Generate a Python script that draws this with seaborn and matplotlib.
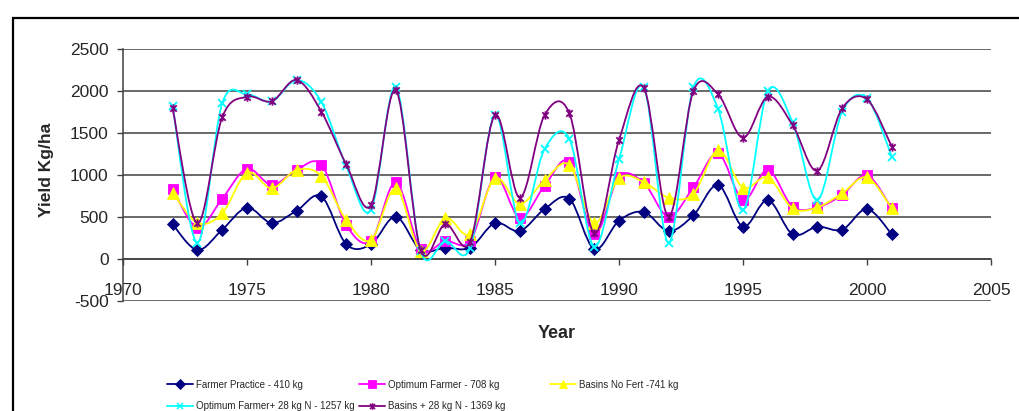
import numpy as np
import pandas as pd
import matplotlib
matplotlib.use("Agg")
import matplotlib.pyplot as plt
from matplotlib.path import Path
from matplotlib.patches import PathPatch, Rectangle
from matplotlib.lines import Line2D
import seaborn as sns

# Data
years = list(range(1972, 2002))

farmer_practice = [413, 107, 349, 611, 428, 575, 746, 175, 175, 504,
                   107, 135, 135, 428, 333, 595, 718, 119, 456, 560,
                   333, 520, 881, 385, 702, 294, 385, 349, 595, 294]
optimum_farmer = [837, 373, 718, 1075, 881, 1060, 1123, 405, 214, 913,
                  119, 214, 214, 972, 492, 873, 1159, 294, 980, 905,
                  504, 853, 1258, 702, 1060, 623, 615, 762, 996, 603]
basins_no_fert = [790, 430, 544, 1028, 841, 1060, 988, 464, 226, 841,
                  95, 488, 298, 960, 655, 940, 1119, 425, 960, 917,
                  730, 774, 1295, 849, 972, 603, 615, 782, 972, 603]
optimum_plus_n = [1821, 194, 1853, 1960, 1877, 2131, 1869, 1107, 583, 2052,
                  95, 214, 135, 1714, 425, 1310, 1429, 147, 1187, 2044,
                  194, 2044, 1782, 583, 2000, 1627, 702, 1754, 1913, 1218]
basins_plus_n = [1794, 425, 1687, 1932, 1877, 2131, 1754, 1127, 639, 2012,
                 107, 417, 206, 1714, 730, 1714, 1734, 306, 1417, 2040,
                 504, 2000, 1960, 1444, 1932, 1595, 1051, 1794, 1901, 1337]

series_names = ["Farmer Practice - 410 kg", "Optimum Farmer - 708 kg",
                "Basins No Fert -741 kg", "Optimum Farmer+ 28 kg N - 1257 kg",
                "Basins + 28 kg N - 1369 kg"]
series_values = [farmer_practice, optimum_farmer, basins_no_fert,
                 optimum_plus_n, basins_plus_n]

y_ticks = [-500, 0, 500, 1000, 1500, 2000, 2500]
x_ticks = [1970, 1975, 1980, 1985, 1990, 1995, 2000, 2005]

# star marker: x with a vertical bar
star = Path([(-1, -1), (1, 1), (-1, 1), (1, -1), (0, -1.3), (0, 1.3)],
            [Path.MOVETO, Path.LINETO, Path.MOVETO, Path.LINETO,
             Path.MOVETO, Path.LINETO])

colors = ["#000080", "#FF00FF", "#FFFF00", "#00FFFF", "#800080"]
markers = ["D", "s", "^", "x", star]
msizes = [6.5, 6.5, 8, 6, 6]


def smooth_path(x, y):
    # Excel-style smoothed line: cubic bezier through every point
    pts = np.column_stack([x, y]).astype(float)
    n = len(pts)
    verts = [pts[0]]
    codes = [Path.MOVETO]
    for i in range(n - 1):
        p0 = pts[i - 1] if i > 0 else pts[i]
        p1 = pts[i]
        p2 = pts[i + 1]
        p3 = pts[i + 2] if i + 2 < n else pts[i + 1]
        c1 = p1 + (p2 - p0) / 6.0
        c2 = p2 - (p3 - p1) / 6.0
        verts += [c1, c2, p2]
        codes += [Path.CURVE4] * 3
    return Path(verts, codes)


sns.set_style("white")
plt.rcParams["font.family"] = ["Liberation Sans", "DejaVu Sans"]
plt.rcParams["axes.unicode_minus"] = False

fig = plt.figure(figsize=(10.19, 4.11), dpi=100)
ax = fig.add_axes([123 / 1019, 110 / 411, 868 / 1019, 252 / 411])

handles = []
for k, (name, vals) in enumerate(zip(series_names, series_values)):
    patch = PathPatch(smooth_path(years, vals), facecolor="none",
                      edgecolor=colors[k], lw=1.3, zorder=3 + k)
    ax.add_patch(patch)
    df = pd.DataFrame({"Year": years, "Yield": vals})
    filled = k < 3
    sns.lineplot(data=df, x="Year", y="Yield", ax=ax, linewidth=0,
                 marker=markers[k], markersize=msizes[k],
                 color=colors[k], markeredgecolor=colors[k],
                 markeredgewidth=0.6 if filled else 1.3,
                 zorder=3 + k + 0.5)
    handles.append(Line2D([], [], color=colors[k], lw=1.3, marker=markers[k],
                          markersize=msizes[k] * 0.8,
                          markeredgecolor=colors[k],
                          markeredgewidth=0.6 if filled else 1.1,
                          label=name))

ax.set_xlim(1970, 2005)
ax.set_ylim(-500, 2500)
ax.set_xticks(x_ticks)
ax.set_yticks(y_ticks)
ax.grid(axis="y", color="#404040", lw=1.1)
ax.grid(axis="x", visible=False)
for s in ["top", "right"]:
    ax.spines[s].set_visible(False)
ax.spines["bottom"].set_position(("data", 0))
ax.spines["bottom"].set_color("#404040")
ax.spines["left"].set_color("#404040")
ax.spines["bottom"].set_linewidth(1.1)
ax.spines["left"].set_linewidth(1.1)
ax.tick_params(axis="x", direction="out", length=4.5, width=1, pad=12.5,
               labelsize=12.5, bottom=True, color="#404040")
ax.tick_params(axis="y", direction="out", length=4.3, width=1, pad=6,
               labelsize=12.5, left=True, color="#404040")

ax.set_xlabel("Year", fontsize=13, fontweight="bold")
ax.xaxis.set_label_coords(0.5, -0.095)
ax.set_ylabel("Yield Kg/ha", fontsize=12.5, fontweight="bold")
ax.yaxis.set_label_coords(-0.08, 0.52)

# legend laid out in three fixed columns like the original
leg_size = 7.0
columns = [([0, 3], 162), ([1, 4], 354), ([2], 545)]
for idx, xpix in columns:
    fig.legend([handles[i] for i in idx], [series_names[i] for i in idx],
               loc="upper left", bbox_to_anchor=(xpix / 1019, 1 - 375 / 411),
               frameon=False, fontsize=leg_size, handlelength=2.7,
               handletextpad=0.25, labelspacing=1.15, borderpad=0)

fig.patches.append(Rectangle((13 / 1019, -0.2), 1.2, 1.2 - 18 / 411,
                             transform=fig.transFigure, fill=False,
                             edgecolor="black", lw=1.6))

fig.savefig("out.png", dpi=100)
